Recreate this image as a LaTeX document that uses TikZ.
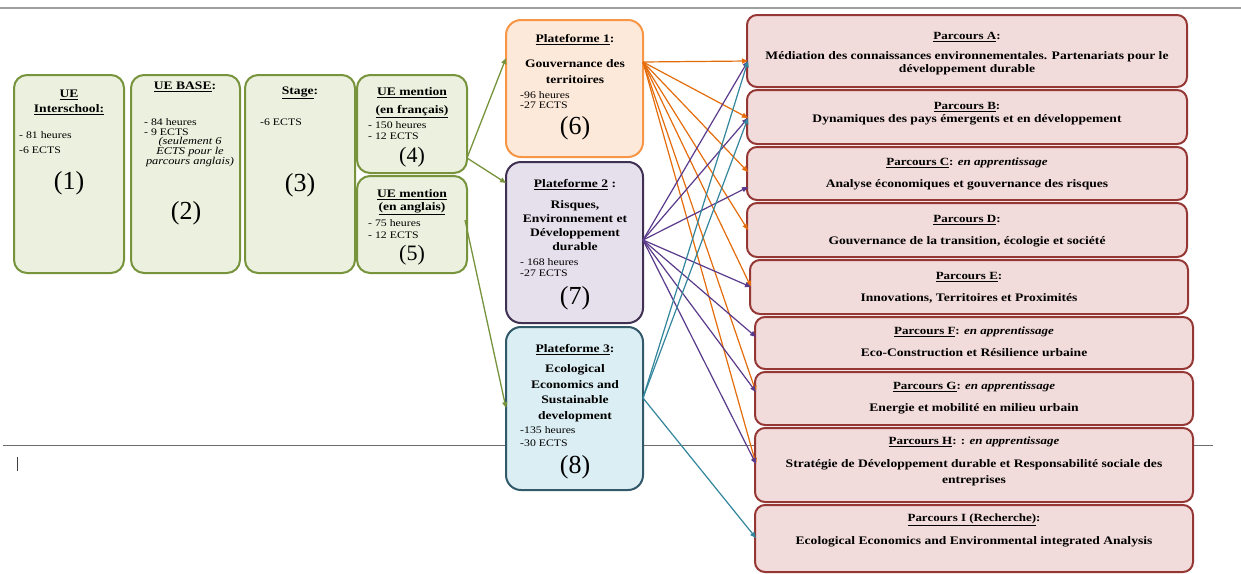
\documentclass[tikz,border=0pt]{standalone}
\usepackage{fontspec}
\setmainfont{Liberation Serif}[FakeStretch=1.18]
\newfontfamily\numfont{Liberation Serif}
\usetikzlibrary{arrows.meta}
\definecolor{gfill}{HTML}{EBF1DE}
\definecolor{gdraw}{HTML}{77933C}
\definecolor{ofill}{HTML}{FDE9D9}
\definecolor{odraw}{HTML}{F79646}
\definecolor{pfill}{HTML}{E5E0EC}
\definecolor{pdraw}{HTML}{403152}
\definecolor{tfill}{HTML}{DBEEF4}
\definecolor{tdraw}{HTML}{31596A}
\definecolor{rfill}{HTML}{F2DCDB}
\definecolor{rdraw}{HTML}{953735}
\definecolor{oline}{HTML}{E46C0A}
\definecolor{pline}{HTML}{5A3A8A}
\definecolor{tline}{HTML}{31859C}
\definecolor{gline}{HTML}{77933C}
\newcommand\mkbox[6]{\node[#6, minimum width={#4-#2}, minimum height={#5-#3}] (#1) at ({(#2+#4)/2},{(#3+#5)/2}) {};}
\tikzset{
  ubox/.style={draw=gdraw, fill=gfill, line width=2pt, rounded corners=13pt, inner sep=0pt},
  plat/.style={line width=2pt, rounded corners=15pt, inner sep=0pt},
  pbox/.style={draw=rdraw, fill=rfill, line width=2pt, rounded corners=10pt, inner sep=0pt},
  ttl/.style={font=\fontsize{11.5}{12}\selectfont\bfseries, inner sep=0pt},
  lst/.style={font=\fontsize{10}{10}\selectfont, inner sep=0pt, anchor=west},
  bignum/.style={font=\numfont\fontsize{26}{28}\selectfont, inner sep=0pt},
  midnum/.style={font=\numfont\fontsize{22}{24}\selectfont, inner sep=0pt},
  ptxt/.style={font=\fontsize{11.5}{14}\selectfont\bfseries, inner sep=0pt, align=center},
  rtt/.style={font=\fontsize{11}{13}\selectfont\bfseries, inner sep=0pt, align=center},
  rbody/.style={font=\fontsize{11.5}{13}\selectfont\bfseries, inner sep=0pt, align=center},
  garrow/.style={draw=gline, line width=1.3pt, -{Triangle[length=6pt,width=5pt]}},
  oarrow/.style={draw=oline, line width=1.2pt, -{Triangle[length=6pt,width=5pt]}},
  parrow/.style={draw=pline, line width=1.2pt, -{Triangle[length=6pt,width=5pt]}},
  tarrow/.style={draw=tline, line width=1.2pt, -{Triangle[length=6pt,width=5pt]}},
}
\begin{document}
\begin{tikzpicture}[x=1pt,y=-1pt]
\useasboundingbox (0,0) rectangle (1241,573);
\fill[white] (0,0) rectangle (1241,573);
% page rules
\draw[gray!75, line width=1.5pt] (0,8) -- (1241,8);
\draw[gray!85!black, line width=1pt] (3,445) -- (1213,445);
\draw[black!75, line width=1pt] (17,457) -- (17,471);

% left green boxes
\mkbox{ue1}{14}{75}{124}{273}{ubox}
\mkbox{ue2}{131}{75}{240}{273}{ubox}
\mkbox{ue3}{245}{75}{355}{273}{ubox}
\mkbox{ue4}{357}{75}{467}{173}{ubox}
\mkbox{ue5}{357}{176}{467}{273}{ubox}

\node[ttl] (ue1a) at (69,95) {\underline{UE}};
\node[ttl] (ue1b) at (69,110) {\underline{Interschool:}};
\node[lst] (ue1c) at (19,135) {- 81 heures};
\node[lst] (ue1d) at (19,150) {-6 ECTS};
\node[bignum] (ue1n) at (69,183) {(1)};

\node[ttl] (ue2a) at (185,87) {\underline{UE BASE}:};
\node[lst] (ue2b) at (144,122) {- 84 heures};
\node[lst] (ue2c) at (144,132) {- 9 ECTS};
\node[font=\fontsize{10.5}{10}\selectfont\itshape, inner sep=0pt, align=center] (ue2d) at (190,152) {(seulement 6\\ ECTS pour le\\ parcours anglais)};
\node[bignum] (ue2n) at (186,213) {(2)};

\node[ttl] (ue3a) at (300,93) {\underline{Stage}:};
\node[lst] (ue3b) at (260,122) {-6 ECTS};
\node[bignum] (ue3n) at (300,185) {(3)};

\node[ttl] (ue4a) at (412,93) {\underline{UE mention}};
\node[ttl] (ue4b) at (412,112) {\underline{(en français)}};
\node[lst] (ue4c) at (368,125) {- 150 heures};
\node[lst] (ue4d) at (368,136) {- 12 ECTS};
\node[midnum] (ue4n) at (412,157) {(4)};

\node[ttl] (ue5a) at (412,195) {\underline{UE mention}};
\node[ttl] (ue5b) at (412,209) {\underline{(en anglais)}};
\node[lst] (ue5c) at (368,223) {- 75 heures};
\node[lst] (ue5d) at (368,235) {- 12 ECTS};
\node[midnum] (ue5n) at (412,255) {(5)};

% platforms
\mkbox{pl1}{506}{20}{643}{157}{plat, draw=odraw, fill=ofill}
\mkbox{pl2}{506}{162}{643}{323}{plat, draw=pdraw, fill=pfill}
\mkbox{pl3}{506}{327}{643}{490}{plat, draw=tdraw, fill=tfill}

\node[ttl] (pl1a) at (575,40) {\underline{Plateforme 1}:};
\node[ptxt, font=\fontsize{11.5}{16.5}\selectfont\bfseries] (pl1b) at (575,71.5) {Gouvernance des\\territoires};
\node[lst] (pl1c) at (520,95) {-96 heures};
\node[lst] (pl1d) at (520,105) {-27 ECTS};
\node[bignum] (pl1n) at (575,128) {(6)};

\node[ttl] (pl2a) at (575,185) {\underline{Plateforme 2} :};
\node[ptxt] (pl2b) at (575,226) {Risques,\\Environnement et\\Développement\\durable};
\node[lst] (pl2c) at (520,262) {- 168 heures};
\node[lst] (pl2d) at (520,273) {-27 ECTS};
\node[bignum] (pl2n) at (575,298) {(7)};

\node[ttl] (pl3a) at (575,350) {\underline{Plateforme 3}:};
\node[ptxt, font=\fontsize{11.5}{15.5}\selectfont\bfseries] (pl3b) at (575,393) {Ecological\\Economics and\\Sustainable\\development};
\node[lst] (pl3c) at (520,430) {-135 heures};
\node[lst] (pl3d) at (520,443) {-30 ECTS};
\node[bignum] (pl3n) at (575,467) {(8)};

% parcours
\mkbox{pA}{747}{15}{1187}{87}{pbox}
\mkbox{pB}{747}{90}{1187}{144}{pbox}
\mkbox{pC}{747}{147}{1187}{200}{pbox}
\mkbox{pD}{747}{203}{1187}{257}{pbox}
\mkbox{pE}{750}{260}{1188}{314}{pbox}
\mkbox{pF}{755}{317}{1193}{369}{pbox}
\mkbox{pG}{755}{372}{1193}{425}{pbox}
\mkbox{pH}{755}{428}{1193}{502}{pbox}
\mkbox{pI}{755}{505}{1193}{572}{pbox}

\node[rtt] (pAa) at (967,37) {\underline{Parcours A}:};
\node[rbody] (pAb) at (967,63.5) {Médiation des connaissances environnementales. Partenariats pour le\\développement durable};
\node[rtt] (pBa) at (967,107) {\underline{Parcours B}:};
\node[rbody] (pBb) at (967,120) {Dynamiques des pays émergents et en développement};
\node[rtt] (pCa) at (967,163) {\underline{Parcours C}: \textit{en apprentissage}};
\node[rbody] (pCb) at (967,185) {Analyse économiques et gouvernance des risques};
\node[rtt] (pDa) at (967,220) {\underline{Parcours D}:};
\node[rbody] (pDb) at (967,242) {Gouvernance de la transition, écologie et société};
\node[rtt] (pEa) at (969,277) {\underline{Parcours E}:};
\node[rbody] (pEb) at (969,298) {Innovations, Territoires et Proximités};
\node[rtt] (pFa) at (974,332) {\underline{Parcours F}: \textit{en apprentissage}};
\node[rbody] (pFb) at (974,353) {Eco-Construction et Résilience urbaine};
\node[rtt] (pGa) at (974,387) {\underline{Parcours G}: \textit{en apprentissage}};
\node[rbody] (pGb) at (974,409) {Energie et mobilité en milieu urbain};
\node[rtt] (pHa) at (974,442) {\underline{Parcours H}: : \textit{en apprentissage}};
\node[rbody, font=\fontsize{11.5}{16}\selectfont\bfseries] (pHb) at (974,473) {Stratégie de Développement durable et Responsabilité sociale des\\entreprises};
\node[rtt] (pIa) at (974,520) {\underline{Parcours I (Recherche)}:};
\node[rbody] (pIb) at (974,542) {Ecological Economics and Environmental integrated Analysis};

% connector endpoints
\coordinate (g4) at (467,158);
\coordinate (g5) at (465,220);
\coordinate (i1) at (506,58);
\coordinate (i2) at (506,183);
\coordinate (i3) at (506,408);
\coordinate (o1) at (643,62);
\coordinate (o2) at (643,240);
\coordinate (o3) at (643,398);
\coordinate (tA) at (748,61);
\coordinate (tB) at (748,118);
\coordinate (tC) at (748,172);
\coordinate (tCp) at (748,187);
\coordinate (tD) at (748,230);
\coordinate (tE) at (751,287);
\coordinate (tF) at (756,337);
\coordinate (tG) at (756,392);
\coordinate (tH) at (756,464);
\coordinate (tI) at (756,538);

\draw[garrow] (g4) -- (i1);
\draw[garrow] (g4) -- (i2);
\draw[garrow] (g5) -- (i3);

\foreach \t in {tA,tB,tC,tD,tE,tG,tH} \draw[oarrow] (o1) -- (\t);
\foreach \t in {tA,tB,tCp,tE,tF,tG,tH} \draw[parrow] (o2) -- (\t);
\foreach \t in {tA,tB,tI} \draw[tarrow] (o3) -- (\t);
\end{tikzpicture}
\end{document}
